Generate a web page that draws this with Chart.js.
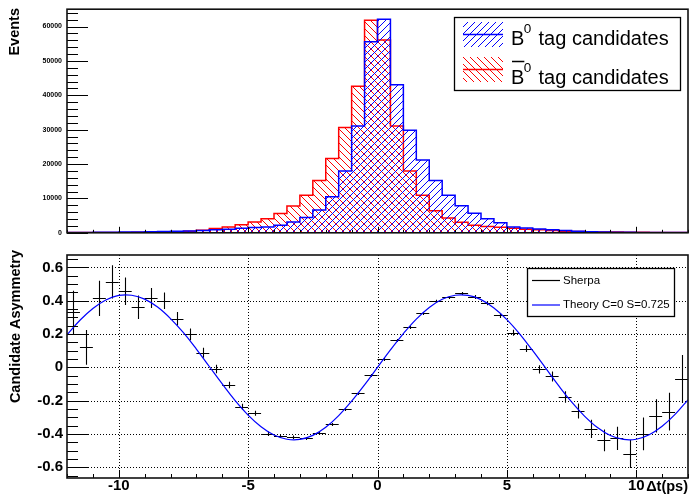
<!DOCTYPE html>
<html><head><meta charset="utf-8">
<script src="https://cdn.jsdelivr.net/npm/chart.js@4.4.1/dist/chart.umd.min.js"></script>
<style>
html,body{margin:0;padding:0;background:#fff;}
#wrap{position:relative;width:689px;height:504px;overflow:hidden;background:#fff;}
#topc{position:absolute;left:0;top:0;}
#botc{position:absolute;left:0;top:242px;}
</style></head><body>
<div id="wrap">
<canvas id="topc" width="689" height="242"></canvas>
<canvas id="botc" width="689" height="262"></canvas>
</div>
<script>
// ---------------- data ----------------
const binCenters = [-11.75,-11.25,-10.75,-10.25,-9.75,-9.25,-8.75,-8.25,-7.75,-7.25,-6.75,-6.25,
  -5.75,-5.25,-4.75,-4.25,-3.75,-3.25,-2.75,-2.25,-1.75,-1.25,-0.75,-0.25,
  0.25,0.75,1.25,1.75,2.25,2.75,3.25,3.75,4.25,4.75,5.25,5.75,
  6.25,6.75,7.25,7.75,8.25,8.75,9.25,9.75,10.25,10.75,11.25,11.75];
const binWidth = 0.5;
const b0Counts = [100,120,150,180,220,260,320,400,480,560,670,860,
  1050,1330,1550,1710,2190,3140,4480,6650,10500,18000,31100,55600,
  62100,43100,29800,21200,15200,10900,7900,5700,4100,2950,1710,1430,
  1140,860,670,480,300,220,170,130,100,80,70,60];
const b0barCounts = [60,70,80,100,120,150,190,240,300,480,760,1230,
  1700,2370,3140,4100,5600,7800,10900,15200,21600,30600,42600,61800,
  56100,31100,18000,10900,6400,4300,3100,2200,1800,1600,1330,1050,
  860,670,480,380,300,250,200,160,130,100,80,70];
const asymValues = [0.33,0.12,0.414,0.514,0.457,0.361,0.416,0.40,0.292,0.198,0.088,-0.01,
  -0.106,-0.237,-0.276,-0.398,-0.414,-0.418,-0.427,-0.396,-0.339,-0.249,-0.153,-0.049,
  0.051,0.163,0.245,0.324,0.40,0.42,0.445,0.424,0.385,0.312,0.208,0.112,
  -0.012,-0.055,-0.178,-0.263,-0.37,-0.439,-0.427,-0.521,-0.40,-0.292,-0.266,-0.07];
const asymErrors = [0.13,0.105,0.106,0.10,0.083,0.07,0.06,0.05,0.04,0.035,0.03,0.025,
  0.02,0.018,0.015,0.012,0.01,0.008,0.007,0.006,0.005,0.004,0.004,0.003,
  0.003,0.004,0.004,0.005,0.006,0.007,0.008,0.01,0.012,0.015,0.018,0.02,
  0.025,0.03,0.035,0.045,0.055,0.066,0.07,0.084,0.098,0.10,0.113,0.144];
const theoryT = [-12,-11.5,-11,-10.5,-10,-9.5,-9,-8.5,-8,-7.5,-7,-6.5,-6,-5.5,-5,-4.5,-4,-3.5,-3,-2.5,-2,-1.5,-1,-0.5,
  0,0.5,1,1.5,2,2.5,3,3.5,4,4.5,5,5.5,6,6.5,7,7.5,8,8.5,9,9.5,10,10.5,11,11.5,12];
const theoryA = [0.195,0.283,0.354,0.405,0.432,0.433,0.410,0.362,0.293,0.208,0.110,0.005,-0.100,-0.200,-0.287,-0.357,-0.407,-0.432,-0.433,-0.409,-0.360,-0.290,-0.203,-0.105,
  0,0.105,0.203,0.290,0.360,0.409,0.433,0.432,0.407,0.357,0.287,0.200,0.100,-0.005,-0.110,-0.208,-0.293,-0.362,-0.410,-0.433,-0.432,-0.405,-0.354,-0.283,-0.195];
const timeTicks = [-10,-5,0,5,10];
const eventTicks = [0,10000,20000,30000,40000,50000,60000];
const asymTicks = [-0.6,-0.4,-0.2,0,0.2,0.4,0.6];
const legendTop = ['B', '0', ' tag candidates'];
const legendBot = ['Sherpa', 'Theory C=0 S=0.725'];
const xTitle = '\u0394t(ps)';
const yTitleTop = 'Events';
const yTitleBot = 'Candidate Asymmetry';

// ---------------- helpers ----------------
const FONT = '"Liberation Sans", Arial, Helvetica, sans-serif';
Chart.defaults.font.family = FONT;

function makeHatch(ctx, color, dir) {
  const s = 7;
  const c = document.createElement('canvas'); c.width = s; c.height = s;
  const g = c.getContext('2d');
  g.strokeStyle = color; g.lineWidth = 1;
  g.beginPath();
  for (let k = -1; k <= 1; k++) {
    if (dir === '/') { g.moveTo(k * s, s); g.lineTo(k * s + s, 0); }
    else { g.moveTo(k * s, 0); g.lineTo(k * s + s, s); }
  }
  g.stroke();
  return ctx.createPattern(c, 'repeat');
}
function stepData(counts) {
  const pts = binCenters.map((c, i) => ({x: c - binWidth / 2, y: counts[i]}));
  const last = binCenters.length - 1;
  pts.push({x: binCenters[last] + binWidth / 2, y: counts[last]});
  return pts;
}
function drawTicks(ctx, a, xs, ys, cfg) {
  ctx.save();
  ctx.strokeStyle = '#000'; ctx.lineWidth = 1; ctx.beginPath();
  for (let k = Math.ceil(xs.min / cfg.xMinor - 1e-9); k * cfg.xMinor <= xs.max + 1e-9; k++) {
    const v = k * cfg.xMinor;
    const r = v / cfg.xMajor, major = Math.abs(r - Math.round(r)) < 1e-6;
    const px = Math.round(xs.getPixelForValue(v)) + 0.5;
    ctx.moveTo(px, a.bottom); ctx.lineTo(px, a.bottom - (major ? cfg.xMajLen : cfg.xMinLen));
  }
  for (let k = Math.ceil(ys.min / cfg.yMinor - 1e-9); k * cfg.yMinor <= ys.max + 1e-9; k++) {
    const v = k * cfg.yMinor;
    const r = v / cfg.yMajor, major = Math.abs(r - Math.round(r)) < 1e-6;
    const py = Math.round(ys.getPixelForValue(v)) + 0.5;
    ctx.moveTo(a.left, py); ctx.lineTo(a.left + (major ? cfg.yMajLen : cfg.yMinLen), py);
  }
  ctx.stroke();
  ctx.lineWidth = 1.6; ctx.strokeStyle = '#111';
  ctx.strokeRect(a.left, a.top, a.right - a.left, a.bottom - a.top);
  ctx.restore();
}
function vTitle(ctx, text, x, y, size) {
  ctx.save();
  ctx.translate(x, y); ctx.rotate(-Math.PI / 2);
  ctx.font = 'bold ' + size + 'px ' + FONT;
  ctx.fillStyle = '#000'; ctx.textAlign = 'right'; ctx.textBaseline = 'middle';
  ctx.fillText(text, 0, 0);
  ctx.restore();
}

// ---------------- top pad ----------------
const topCanvas = document.getElementById('topc');
const tctx = topCanvas.getContext('2d');
const blueHatch = makeHatch(tctx, '#0000ff', '/');
const redHatch = makeHatch(tctx, '#ff0000', '\\');

const topPlugin = {
  id: 'topPad',
  afterDraw(chart) {
    const {ctx, chartArea: a, scales: {x, y}} = chart;
    drawTicks(ctx, a, x, y, {xMinor: 1, xMajor: 5, xMajLen: 6, xMinLen: 3,
      yMinor: 2000, yMajor: 10000, yMajLen: 21, yMinLen: 11});
    vTitle(ctx, yTitleTop, 15, 8, 14.5);
    // legend
    ctx.save();
    ctx.fillStyle = '#fff'; ctx.fillRect(454, 17, 227, 74);
    ctx.strokeStyle = '#000'; ctx.lineWidth = 1.3; ctx.strokeRect(454.5, 17.5, 226, 73);
    const rows = [{pat: blueHatch, col: '#0000ff', top: 22, base: 45, bar: false},
                  {pat: redHatch, col: '#ff0000', top: 57, base: 84, bar: true}];
    rows.forEach(r => {
      ctx.fillStyle = r.pat; ctx.fillRect(463, r.top, 40, 25);
      ctx.strokeStyle = r.col; ctx.lineWidth = 1.5;
      ctx.beginPath(); ctx.moveTo(463, r.top + 12.5); ctx.lineTo(503, r.top + 12.5); ctx.stroke();
      ctx.fillStyle = '#000'; ctx.textAlign = 'left'; ctx.textBaseline = 'alphabetic';
      ctx.font = '20px ' + FONT;
      ctx.fillText(legendTop[0], 511, r.base);
      const bw = ctx.measureText(legendTop[0]).width;
      if (r.bar) {
        ctx.strokeStyle = '#000'; ctx.lineWidth = 1.5;
        ctx.beginPath(); ctx.moveTo(512, r.base - 22.5); ctx.lineTo(511 + bw, r.base - 22.5); ctx.stroke();
      }
      ctx.font = '13.5px ' + FONT;
      ctx.fillText(legendTop[1], 511 + bw - 0.5, r.base - 12);
      ctx.font = '20px ' + FONT;
      ctx.fillText(legendTop[2], 533, r.base);
    });
    ctx.restore();
  }
};

new Chart(topCanvas, {
  type: 'line',
  data: {datasets: [
    {label: 'B0 tag candidates', data: stepData(b0Counts), stepped: 'before', fill: 'origin',
     backgroundColor: blueHatch, borderColor: '#0000ff', borderWidth: 1.5, pointRadius: 0},
    {label: 'B0bar tag candidates', data: stepData(b0barCounts), stepped: 'before', fill: 'origin',
     backgroundColor: redHatch, borderColor: '#ff0000', borderWidth: 1.5, pointRadius: 0}
  ]},
  options: {
    responsive: false, animation: false, events: [],
    layout: {padding: {top: 7, right: 1, left: 0, bottom: 0}},
    plugins: {legend: {display: false}, tooltip: {enabled: false}},
    scales: {
      x: {type: 'linear', min: -12, max: 12,
          afterBuildTicks: s => { s.ticks = timeTicks.map(v => ({value: v})); },
          ticks: {display: false}, grid: {display: false, drawTicks: false}, border: {display: false},
          afterFit: s => { s.height = 7; }},
      y: {type: 'linear', min: 0, max: 65050,
          afterBuildTicks: s => { s.ticks = eventTicks.map(v => ({value: v})); },
          ticks: {font: {weight: 'bold', size: 7}, color: '#000', padding: 5, autoSkip: false,
                  callback: v => String(v)},
          grid: {display: false, drawTicks: false}, border: {display: false},
          afterFit: s => { s.width = 67; }}
    }
  },
  plugins: [topPlugin]
});

// ---------------- bottom pad ----------------
const botCanvas = document.getElementById('botc');
const botPlugin = {
  id: 'botPad',
  beforeDatasetsDraw(chart) {
    const {ctx, chartArea: a, scales: {x, y}} = chart;
    ctx.save();
    ctx.strokeStyle = '#000'; ctx.lineWidth = 1; ctx.setLineDash([1, 2]);
    ctx.beginPath();
    timeTicks.forEach(v => { const px = Math.round(x.getPixelForValue(v)) + 0.5; ctx.moveTo(px, a.top); ctx.lineTo(px, a.bottom); });
    asymTicks.forEach(v => { const py = Math.round(y.getPixelForValue(v)) + 0.5; ctx.moveTo(a.left, py); ctx.lineTo(a.right, py); });
    ctx.stroke();
    ctx.setLineDash([]);
    // error bars of Sherpa points
    ctx.beginPath(); ctx.rect(a.left, a.top, a.right - a.left, a.bottom - a.top); ctx.clip();
    ctx.strokeStyle = '#000'; ctx.lineWidth = 1.1;
    ctx.beginPath();
    binCenters.forEach((c, i) => {
      const px = x.getPixelForValue(c);
      const x0 = x.getPixelForValue(c - binWidth / 2), x1 = x.getPixelForValue(c + binWidth / 2);
      const py = Math.round(y.getPixelForValue(asymValues[i])) + 0.5;
      const y0 = y.getPixelForValue(asymValues[i] - asymErrors[i]);
      const y1 = y.getPixelForValue(asymValues[i] + asymErrors[i]);
      ctx.moveTo(x0, py); ctx.lineTo(x1, py);
      const pxr = Math.round(px) + 0.5;
      ctx.moveTo(pxr, Math.max(y0, py + 1.5)); ctx.lineTo(pxr, Math.min(y1, py - 1.5));
    });
    ctx.stroke();
    ctx.restore();
  },
  afterDraw(chart) {
    const {ctx, chartArea: a, scales: {x, y}} = chart;
    drawTicks(ctx, a, x, y, {xMinor: 1, xMajor: 5, xMajLen: 8, xMinLen: 4,
      yMinor: 0.05, yMajor: 0.2, yMajLen: 21, yMinLen: 11});
    vTitle(ctx, yTitleBot, 16, 8, 14.5);
    ctx.save();
    ctx.font = 'bold 14.5px ' + FONT; ctx.fillStyle = '#000';
    ctx.textAlign = 'right'; ctx.textBaseline = 'middle';
    ctx.fillText(xTitle, 688, 245);
    // legend
    ctx.fillStyle = '#fff'; ctx.fillRect(527, 26, 148, 49);
    ctx.strokeStyle = '#000'; ctx.lineWidth = 1.3; ctx.strokeRect(527.5, 26.5, 147, 48);
    ctx.lineWidth = 1.2;
    ctx.strokeStyle = '#000'; ctx.beginPath(); ctx.moveTo(532, 38.5); ctx.lineTo(560, 38.5); ctx.stroke();
    ctx.strokeStyle = '#0000ff'; ctx.beginPath(); ctx.moveTo(532, 63); ctx.lineTo(560, 63); ctx.stroke();
    ctx.font = '11.5px ' + FONT; ctx.fillStyle = '#000'; ctx.textAlign = 'left';
    ctx.fillText(legendBot[0], 563, 38.5);
    ctx.fillText(legendBot[1], 563, 63);
    ctx.restore();
  }
};

new Chart(botCanvas, {
  type: 'line',
  data: {datasets: [
    {label: 'Sherpa', data: binCenters.map((c, i) => ({x: c, y: asymValues[i]})),
     showLine: false, pointRadius: 0, borderColor: '#000'},
    {label: 'Theory C=0 S=0.725', data: theoryT.map((t, i) => ({x: t, y: theoryA[i]})),
     borderColor: '#0000ff', borderWidth: 1.2, pointRadius: 0, tension: 0.4, fill: false}
  ]},
  options: {
    responsive: false, animation: false, events: [],
    layout: {padding: {top: 8, right: 1, left: 0, bottom: 0}},
    plugins: {legend: {display: false}, tooltip: {enabled: false}},
    scales: {
      x: {type: 'linear', min: -12, max: 12,
          afterBuildTicks: s => { s.ticks = timeTicks.map(v => ({value: v})); },
          ticks: {font: {weight: 'bold', size: 15, lineHeight: 1}, color: '#000', padding: 0,
                  maxRotation: 0, minRotation: 0, autoSkip: false, callback: v => String(v)},
          grid: {display: false, drawTicks: false}, border: {display: false},
          afterFit: s => { s.height = 26; }},
      y: {type: 'linear', min: -0.665, max: 0.675,
          afterBuildTicks: s => { s.ticks = asymTicks.map(v => ({value: v})); },
          ticks: {font: {weight: 'bold', size: 15}, color: '#000', padding: 4, autoSkip: false,
                  callback: v => String(v)},
          grid: {display: false, drawTicks: false}, border: {display: false},
          afterFit: s => { s.width = 67; }}
    }
  },
  plugins: [botPlugin]
});
</script>
</body></html>
